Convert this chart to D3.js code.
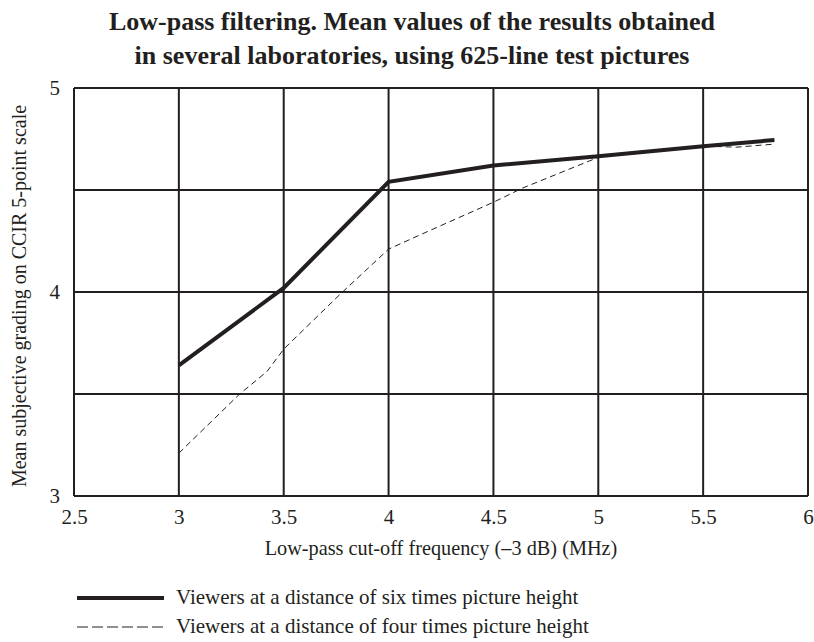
<!DOCTYPE html>
<html>
<head>
<meta charset="utf-8">
<script src="https://cdn.jsdelivr.net/npm/d3@7"></script>
<style>
  body { margin: 0; background: #fff; }
  text { font-family: 'Liberation Serif', 'Times New Roman', serif; fill: #231f20; }
</style>
</head>
<body>
<div id="chart"></div>
<script>
const titleLines = [
  'Low-pass filtering. Mean values of the results obtained',
  'in several laboratories, using 625-line test pictures'
];
const xLabel = 'Low-pass cut-off frequency (\u20133 dB) (MHz)';
const yLabel = 'Mean subjective grading on CCIR 5-point scale';

const xTicks = [2.5, 3, 3.5, 4, 4.5, 5, 5.5, 6];
const yTicks = [3, 4, 5];
const yGrid = [3, 3.5, 4, 4.5, 5];

// six times picture height (solid)
const sixFreq = [3, 3.5, 4, 4.5, 5, 5.5, 5.84];
const sixGrade = [3.64, 4.02, 4.54, 4.62, 4.665, 4.715, 4.745];

// four times picture height (dashed)
const fourFreq = [3, 3.29, 3.42, 3.5, 3.77, 4, 4.15, 4.5, 4.64, 5, 5.5, 5.66, 5.84];
const fourGrade = [3.21, 3.5, 3.61, 3.72, 3.99, 4.21, 4.28, 4.44, 4.51, 4.66, 4.715, 4.71, 4.725];

const legendLabels = [
  'Viewers at a distance of six times picture height',
  'Viewers at a distance of four times picture height'
];

const width = 814;
const height = 642;
const margin = { top: 88, right: 6, bottom: 146, left: 74 };
const innerW = width - margin.left - margin.right;
const innerH = height - margin.top - margin.bottom;

const svg = d3
  .select('#chart')
  .append('svg')
  .attr('width', width)
  .attr('height', height);

// title
svg
  .selectAll('.title')
  .data(titleLines)
  .enter()
  .append('text')
  .attr('class', 'title')
  .attr('x', 412)
  .attr('y', (d, i) => 30 + i * 34)
  .attr('text-anchor', 'middle')
  .style('font-size', '26px')
  .style('font-weight', 'bold')
  .text(d => d);

const g = svg
  .append('g')
  .attr('transform', `translate(${margin.left}, ${margin.top})`);

const xScale = d3.scaleLinear().domain([2.5, 6]).range([0, innerW]);
const yScale = d3.scaleLinear().domain([3, 5]).range([innerH, 0]);

// grid
g.selectAll('.vgrid')
  .data(xTicks)
  .enter()
  .append('line')
  .attr('x1', d => xScale(d))
  .attr('x2', d => xScale(d))
  .attr('y1', 0)
  .attr('y2', innerH)
  .attr('stroke', '#231f20')
  .attr('stroke-width', 2);

g.selectAll('.hgrid')
  .data(yGrid)
  .enter()
  .append('line')
  .attr('x1', 0)
  .attr('x2', innerW)
  .attr('y1', d => yScale(d))
  .attr('y2', d => yScale(d))
  .attr('stroke', '#231f20')
  .attr('stroke-width', 2);

// axes (labels only)
const xAxis = g
  .append('g')
  .attr('transform', `translate(0, ${innerH})`)
  .call(d3.axisBottom(xScale).tickValues(xTicks).tickSize(0).tickPadding(13).tickFormat(d3.format('')));
const yAxis = g
  .append('g')
  .call(d3.axisLeft(yScale).tickValues(yTicks).tickSize(0).tickPadding(14).tickFormat(d3.format('d')));
[xAxis, yAxis].forEach(a => {
  a.select('.domain').remove();
  a.selectAll('text')
    .style('font-family', "'Liberation Serif', serif")
    .style('font-size', '21px')
    .attr('fill', '#231f20');
});

g.append('text')
  .attr('x', innerW / 2)
  .attr('y', innerH + 59)
  .attr('text-anchor', 'middle')
  .style('font-size', '20.3px')
  .text(xLabel);

g.append('text')
  .attr('transform', `translate(${-48}, ${innerH / 2 + 4}) rotate(-90)`)
  .attr('text-anchor', 'middle')
  .style('font-size', '20px')
  .text(yLabel);

// lines
const line = d3
  .line()
  .x(d => xScale(d[0]))
  .y(d => yScale(d[1]));

g.append('path')
  .datum(fourFreq.map((f, i) => [f, fourGrade[i]]))
  .attr('fill', 'none')
  .attr('stroke', '#231f20')
  .attr('stroke-width', 1)
  .attr('stroke-dasharray', '6 4')
  .attr('d', line);

g.append('path')
  .datum(sixFreq.map((f, i) => [f, sixGrade[i]]))
  .attr('fill', 'none')
  .attr('stroke', '#231f20')
  .attr('stroke-width', 4)
  .attr('d', line);

// legend
const legend = svg
  .selectAll('.legend')
  .data(legendLabels)
  .enter()
  .append('g')
  .attr('class', 'legend')
  .attr('transform', (d, i) => `translate(77, ${598 + i * 29})`);

legend
  .append('line')
  .attr('x1', 0)
  .attr('x2', 87)
  .attr('y1', 0)
  .attr('y2', 0)
  .attr('stroke', '#231f20')
  .attr('stroke-width', (d, i) => (i === 0 ? 4 : 1))
  .attr('stroke-dasharray', (d, i) => (i === 0 ? null : '11 4'));

legend
  .append('text')
  .attr('x', 99)
  .attr('y', 6)
  .style('font-size', '21px')
  .text(d => d);
</script>
</body>
</html>
